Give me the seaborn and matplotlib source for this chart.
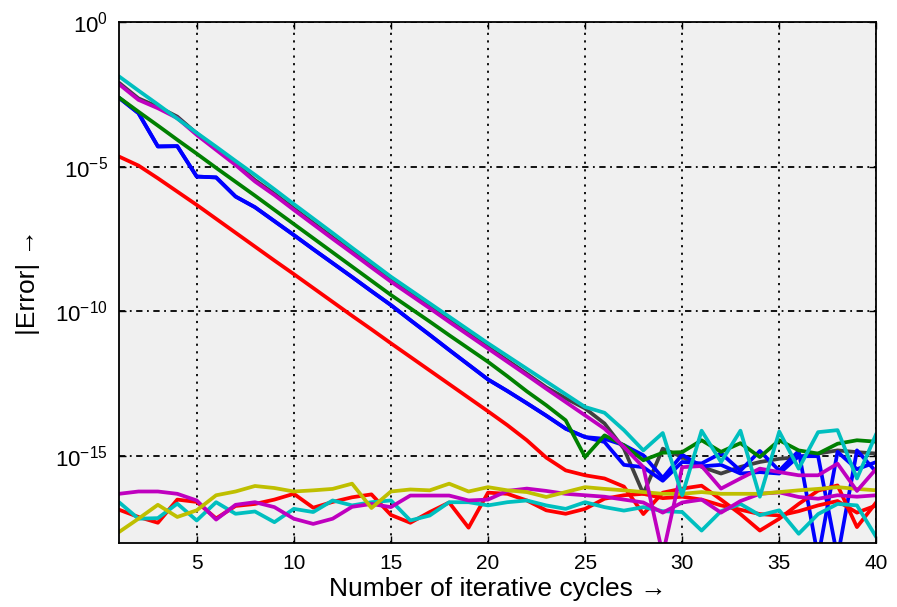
import numpy as np
import pandas as pd
import seaborn as sns
import matplotlib
matplotlib.use("Agg")
import matplotlib.pyplot as plt

# ---- data (log10 of |Error|) ----
iterations = list(range(1, 41))

blue_desc = [-2.62, -3.15, -4.30, -4.29, -5.34, -5.37, -6.03, -6.40, -6.88, -7.36,
             -7.85, -8.33, -8.81, -9.30, -9.78, -10.30, -10.81, -11.33, -11.84, -12.35,
             -12.75, -13.17, -13.60, -14.05, -14.34, -14.51, -15.30, -15.38, -15.85, -15.20,
             -15.25, -14.90, -15.50, -14.82, -15.50, -14.82, -18.50, -14.85, -15.45, -15.20]
blue_desc2 = [-2.62, -3.15, -4.30, -4.29, -5.34, -5.37, -6.03, -6.40, -6.88, -7.36,
              -7.85, -8.33, -8.81, -9.30, -9.78, -10.30, -10.81, -11.33, -11.84, -12.35,
              -12.75, -13.17, -13.60, -14.05, -14.34, -14.40, -14.62, -14.97, -15.75, -14.95,
              -15.35, -15.30, -15.60, -15.55, -15.60, -15.00, -15.00, -18.50, -14.80, -15.55]
green_desc = [-2.61, -3.10, -3.58, -4.07, -4.55, -5.04, -5.52, -6.00, -6.49, -6.98,
              -7.47, -7.96, -8.45, -8.94, -9.43, -9.89, -10.35, -10.82, -11.28, -11.74,
              -12.24, -12.76, -13.24, -13.76, -15.03, -14.28, -14.62, -15.14, -14.88, -14.86,
              -14.45, -14.85, -14.55, -15.03, -14.45, -14.80, -14.91, -14.57, -14.45, -14.50]
red_desc = [-4.65, -4.96, -5.40, -5.86, -6.32, -6.80, -7.28, -7.76, -8.24, -8.71,
            -9.19, -9.67, -10.15, -10.62, -11.10, -11.57, -12.04, -12.51, -12.98, -13.45,
            -13.93, -14.45, -15.05, -15.49, -15.66, -15.77, -16.05, -17.00, -16.26, -16.12,
            -16.02, -16.50, -17.00, -17.57, -17.16, -16.65, -16.19, -16.01, -17.45, -16.59]
cyan_desc = [-1.88, -2.37, -2.85, -3.34, -3.83, -4.31, -4.80, -5.28, -5.78, -6.29,
             -6.79, -7.29, -7.80, -8.30, -8.80, -9.26, -9.72, -10.18, -10.64, -11.10,
             -11.54, -11.98, -12.42, -12.86, -13.30, -13.50, -14.10, -14.80, -14.20, -16.35,
             -14.12, -15.20, -14.12, -16.40, -14.15, -15.43, -14.17, -14.10, -15.77, -14.22]
magenta_desc = [-2.15, -2.69, -2.98, -3.32, -3.90, -4.42, -4.94, -5.51, -5.98, -6.49,
                -6.99, -7.49, -7.98, -8.48, -8.97, -9.43, -9.89, -10.36, -10.82, -11.28,
                -11.74, -12.20, -12.67, -13.13, -13.59, -14.05, -14.68, -15.38, -18.40, -15.38,
                -15.34, -16.12, -15.77, -15.43, -15.55, -15.66, -15.66, -15.26, -16.20, -15.43]
gray_desc = [-2.10, -2.64, -2.93, -3.27, -3.85, -4.37, -4.89, -5.46, -5.93, -6.44,
             -6.94, -7.44, -7.93, -8.43, -8.92, -9.38, -9.84, -10.31, -10.77, -11.23,
             -11.69, -12.15, -12.62, -13.00, -13.35, -13.87, -14.74, -16.30, -14.74, -15.03,
             -15.37, -15.60, -15.37, -15.20, -15.09, -15.03, -14.91, -14.80, -14.86, -14.91]
red_flat = [-16.85, -17.10, -17.30, -16.50, -16.58, -17.15, -16.72, -16.65, -16.50, -16.30,
            -16.78, -16.58, -16.42, -16.32, -17.03, -17.30, -16.93, -16.60, -17.47, -16.26,
            -16.30, -16.53, -16.87, -16.99, -16.82, -16.47, -16.35, -16.30, -16.45, -16.40,
            -16.50, -16.70, -16.85, -17.00, -17.05, -16.90, -16.70, -16.55, -16.95, -16.70]
cyan_flat = [-16.59, -17.16, -17.14, -16.64, -17.22, -16.59, -16.99, -16.91, -17.28, -16.82,
             -16.93, -16.53, -16.70, -16.59, -16.53, -17.22, -17.05, -16.59, -16.59, -16.70,
             -16.59, -16.53, -16.70, -16.82, -16.59, -16.76, -16.88, -16.76, -16.90, -16.93,
             -17.57, -16.90, -16.65, -17.04, -16.87, -17.68, -17.00, -16.65, -16.70, -17.80]
magenta_flat = [-16.30, -16.22, -16.22, -16.30, -16.53, -17.19, -16.68, -16.59, -16.76, -17.16,
                -17.34, -17.16, -16.75, -16.65, -16.76, -16.36, -16.36, -16.36, -16.53, -16.50,
                -16.20, -16.12, -16.20, -16.30, -16.35, -16.40, -16.50, -16.60, -16.95, -16.60,
                -16.50, -16.95, -16.55, -16.30, -16.25, -16.41, -16.47, -16.35, -16.40, -16.35]
yellow_flat = [-17.62, -17.16, -16.68, -17.10, -16.87, -16.35, -16.22, -16.03, -16.10, -16.22,
               -16.18, -16.13, -15.95, -16.79, -16.22, -16.15, -16.18, -15.95, -16.22, -16.07,
               -16.18, -16.24, -16.41, -16.24, -16.07, -16.13, -16.18, -16.24, -16.30, -16.30,
               -16.24, -16.30, -16.30, -16.30, -16.24, -16.18, -16.13, -16.07, -16.13, -16.18]

series = {
    "k1": gray_desc, "b2": blue_desc2, "b1": blue_desc, "g1": green_desc, "r1": red_desc,
    "r2": red_flat, "c2": cyan_flat, "m2": magenta_flat, "y1": yellow_flat,
    "m1": magenta_desc, "c1": cyan_desc,
}
palette = {
    "b1": (0, 0, 1), "b2": (0, 0, 1), "g1": (0, 0.5, 0), "r1": (1, 0, 0), "r2": (1, 0, 0),
    "c1": (0, 0.75, 0.75), "c2": (0, 0.75, 0.75), "m1": (0.75, 0, 0.75), "m2": (0.75, 0, 0.75),
    "y1": (0.75, 0.75, 0), "k1": (0.25, 0.25, 0.25),
}

rows = []
for name, vals in series.items():
    for x, v in zip(iterations, vals):
        rows.append({"iter": x, "err": 10.0 ** v, "series": name})
df = pd.DataFrame(rows)

sns.set_style("ticks")
plt.rcParams["font.family"] = ["Liberation Sans Narrow", "Liberation Sans", "DejaVu Sans"]
plt.rcParams["mathtext.fontset"] = "custom"
plt.rcParams["mathtext.rm"] = "Liberation Sans"
plt.rcParams["mathtext.it"] = "Liberation Sans:italic"
plt.rcParams["mathtext.bf"] = "Liberation Sans:bold"
plt.rcParams["text.color"] = "black"
plt.rcParams["axes.labelcolor"] = "black"
plt.rcParams["xtick.color"] = "black"
plt.rcParams["ytick.color"] = "black"

fig = plt.figure(figsize=(8.97, 6.07), dpi=100)
ax = fig.add_axes([0.1327, 0.1054, 0.8443, 0.8584])
ax.set_facecolor("#f0f0f0")

sns.lineplot(data=df, x="iter", y="err", hue="series", hue_order=list(series.keys()),
             palette=palette, legend=False, linewidth=2.7, ax=ax, estimator=None, sort=False)

ax.set_yscale("log")
ax.set_xlim(1, 40)
ax.set_ylim(1e-18, 1)
ax.set_xticks([5, 10, 15, 20, 25, 30, 35, 40])
ax.set_yticks([1e-15, 1e-10, 1e-5, 1e0])
ax.set_yticklabels([r"$10^{-15}$", r"$10^{-10}$", r"$10^{-5}$", r"$10^{0}$"])
ax.yaxis.set_minor_locator(matplotlib.ticker.NullLocator())

ax.grid(True, which="major", color="black", linewidth=1.3)
for gl in ax.get_xgridlines():
    gl.set_linestyle((0, (1.2, 3.0)))
for gl in ax.get_ygridlines():
    gl.set_linestyle((0, (3.5, 2.5, 1.0, 2.5)))

ax.tick_params(axis="both", which="major", direction="in", length=5, width=1,
               top=True, right=True, labelsize=15, colors="black", pad=8)
ax.tick_params(axis="y", labelsize=16)
for s in ax.spines.values():
    s.set_visible(True)
    s.set_color("black")
    s.set_linewidth(1.3)

ax.set_xlabel("Number of iterative cycles \u2192", fontsize=19, labelpad=3)
ax.set_ylabel("|Error| \u2192", fontsize=19, labelpad=11)

fig.savefig("out.png", dpi=100, facecolor="white")
